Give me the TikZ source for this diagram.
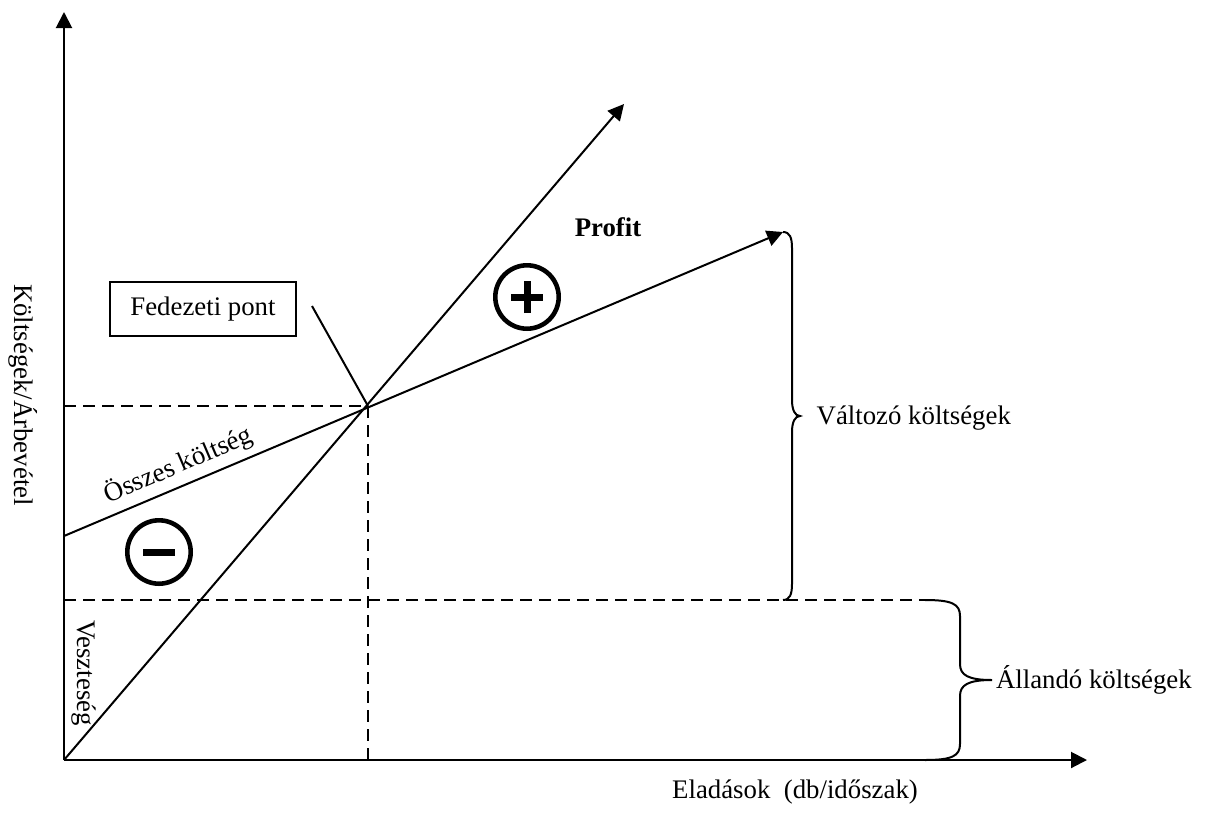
\documentclass[tikz,border=0pt]{standalone}
\usepackage{fontspec}
\setmainfont{Liberation Serif}
\usetikzlibrary{arrows.meta}

\begin{document}
\begin{tikzpicture}[x=0.5pt,y=-0.5pt,line width=1pt,
  every node/.style={font=\fontsize{13.4}{16}\selectfont},
  axis/.style={-{Triangle[length=8pt,width=8pt]}},
  guide/.style={dash pattern=on 6pt off 3.5pt},
  sign/.style={circle,draw,line width=2.3pt,minimum size=31.7pt,inner sep=0pt},
  bar/.style={line width=3.5pt}]
\useasboundingbox (0,0) rectangle (1205,836);

% key points
\coordinate (O) at (64,760);
\coordinate (ytip) at (64,12);
\coordinate (xtip) at (1087,760);
\coordinate (P) at (368,406);
\coordinate (rtip) at (624,104);
\coordinate (c0) at (64,536);
\coordinate (ctip) at (783,232);
\coordinate (fy) at (64,600);
\coordinate (Py) at (64,406);
\coordinate (Px) at (368,760);
\coordinate (fb) at (925,600);
\coordinate (vb) at (783,600);

% axes
\draw[axis] (O) -- (ytip);
\draw[axis] (O) -- (xtip);

% guide lines
\draw[guide] (Py) -- (P) -- (Px);
\draw[guide] (fy) -- (fb);

% revenue and total cost lines
\draw[axis] (O) -- (rtip);
\draw[axis] (c0) -- (ctip);

% break-even label
\node[draw,minimum width=93pt,minimum height=27pt,inner sep=0pt] (bep) at (203,309) {Fedezeti pont};
\coordinate (ptr) at (312,306);
\draw (ptr) -- (P);

% brace: variable costs
\draw (ctip) .. controls (790,232) and (792,238) .. (792,248) -- (792,400)
  .. controls (792,410) and (795,416) .. (800,416)
  .. controls (795,416) and (792,422) .. (792,432) -- (792,584)
  .. controls (792,594) and (790,600) .. (vb);
\node[anchor=west] (var) at (809,418) {Változó költségek};

% brace: fixed costs
\draw (fb) .. controls (952,600) and (960,604) .. (960,616) -- (960,664)
  .. controls (960,675) and (968,680) .. (992,680)
  .. controls (968,680) and (960,685) .. (960,696) -- (960,744)
  .. controls (960,756) and (952,760) .. (925,760);
\node[anchor=west,inner sep=1pt] (fix) at (993,680) {Állandó költségek};

% profit / loss markers
\node[font=\fontsize{13.4}{16}\selectfont\bfseries] (profit) at (608,227) {Profit};
\node[sign] (plus) at (527,297) {};
\draw[bar] ([xshift=-8pt]plus.center) -- ([xshift=8pt]plus.center);
\draw[bar] ([yshift=-8pt]plus.center) -- ([yshift=8pt]plus.center);
\node[sign] (minus) at (159,552) {};
\draw[bar] ([xshift=-8pt]minus.center) -- ([xshift=8pt]minus.center);

% line labels
\node[rotate=23.2] (tc) at (178,465) {Összes költség};
\node[rotate=-90] (loss) at (84,673) {Veszteség};

% axis titles
\node[rotate=-90] (ylab) at (23,395) {Költségek/Árbevétel};
\node (xlab) at (795,792) {Eladások\ \ (db/időszak)};
\end{tikzpicture}
\end{document}
